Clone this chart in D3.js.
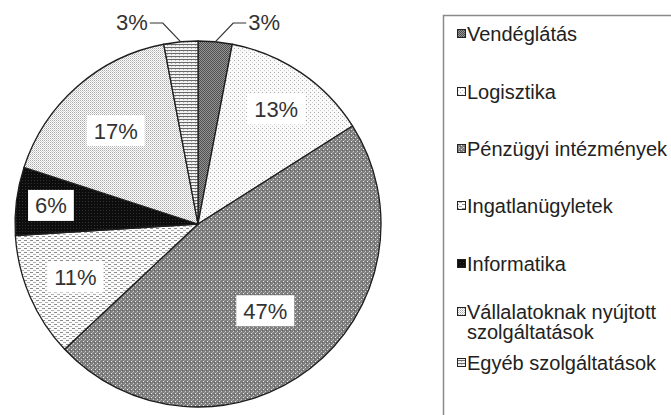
<!DOCTYPE html>
<html lang="hu">
<head>
<meta charset="UTF-8">
<title>Megoszlás</title>
<style>
    body { margin: 0; background: #fff; }
    svg { display: block; font-family: "Liberation Sans", Arial, sans-serif; }
</style>
</head>
<body>
<svg id="chart" width="671" height="415"></svg>
<script src="https://d3js.org/d3.v7.min.js"></script>
<script>
// adatok
const categories = ["Vendéglátás", "Logisztika", "Pénzügyi intézmények", "Ingatlanügyletek",
    "Informatika", "Vállalatoknak nyújtott szolgáltatások", "Egyéb szolgáltatások"];
const shares = [3, 13, 47, 11, 6, 17, 3];

// elrendezés
const patternIds = ["pVend", "pLog", "pPenz", "pIng", "pInfo", "pVall", "pEgy"];
const labelRadius = [null, 0.76, 0.6, 0.73, 0.81, 0.68, null]; // null = kivezetett címke
const legendBaseline = [41, 99, 156, 213, 271, 319, 370];

const svg = d3.select("#chart");
const cx = 198, cy = 224, r = 183;

// mintázatok (szürkeárnyalatos kitöltések)
const defs = svg.append("defs");
function pattern(id, w, h, bg, draw) {
    const p = defs.append("pattern").attr("id", id)
        .attr("patternUnits", "userSpaceOnUse").attr("width", w).attr("height", h);
    p.append("rect").attr("width", w).attr("height", h).attr("fill", bg);
    draw(p);
}
const px = (p, x, y, c, w = 1, h = 1) => p.append("rect").attr("x", x).attr("y", y).attr("width", w).attr("height", h).attr("fill", c);

pattern("pVend", 2, 2, "#959595", p => { px(p, 0, 0, "#4e4e4e"); px(p, 1, 1, "#4e4e4e"); });
pattern("pLog", 4, 4, "#fafafa", p => { px(p, 0, 0, "#a8a8a8"); px(p, 2, 2, "#c8c8c8"); });
pattern("pPenz", 4, 4, "#7e7e7e", p => { px(p, 1, 1, "#eeeeee"); px(p, 3, 3, "#d0d0d0"); px(p, 0, 2, "#5e5e5e"); px(p, 2, 0, "#a0a0a0"); });
pattern("pIng", 6, 4, "#fbfbfb", p => { px(p, 0, 0, "#8a8a8a", 3, 1); px(p, 3, 2, "#b0b0b0", 3, 1); });
pattern("pInfo", 3, 3, "#0d0d0d", p => { px(p, 1, 1, "#333"); });
pattern("pVall", 2, 2, "#ffffff", p => { px(p, 0, 0, "#aaaaaa"); px(p, 1, 1, "#cfcfcf"); });
pattern("pEgy", 4, 3, "#f2f2f2", p => { px(p, 0, 0, "#6a6a6a", 4, 1); px(p, 1, 1, "#b8b8b8"); });

const pie = d3.pie().sort(null).value(d => d).startAngle(0).endAngle(2 * Math.PI);
const arcs = pie(shares);
const arc = d3.arc().innerRadius(0).outerRadius(r);

const g = svg.append("g").attr("transform", `translate(${cx},${cy})`);

g.selectAll("path.slice")
    .data(arcs)
    .join("path")
    .attr("class", "slice")
    .attr("d", arc)
    .attr("fill", (d, i) => `url(#${patternIds[i]})`)
    .attr("stroke", "#1e1e1e")
    .attr("stroke-width", 1.3)
    .attr("stroke-linejoin", "round");

// belső címkék fehér háttérrel
const fontSize = 22;
arcs.forEach((d, i) => {
    if (labelRadius[i] === null) return;
    const a = (d.startAngle + d.endAngle) / 2;
    const lr = r * labelRadius[i];
    const x = Math.sin(a) * lr, y = -Math.cos(a) * lr;
    const t = g.append("text")
        .attr("x", x).attr("y", y + fontSize * 0.36)
        .attr("text-anchor", "middle")
        .attr("font-size", fontSize)
        .attr("fill", "#333")
        .text(d.data + "%");
    const w = t.node().getComputedTextLength();
    g.insert("rect", "text")
        .attr("x", x - w / 2 - 7).attr("y", y - 15.5)
        .attr("width", w + 14).attr("height", 31)
        .attr("fill", "#fff");
});

// kivezetett címkék (3%)
arcs.forEach((d, i) => {
    if (labelRadius[i] !== null) return;
    const a = (d.startAngle + d.endAngle) / 2;
    const side = Math.sin(a) >= 0 ? 1 : -1;
    const p0 = [Math.sin(a) * r, -Math.cos(a) * r];
    const p1 = [p0[0] + side * 18, -r - 18];
    const p2 = [p1[0] + side * 13, p1[1]];
    g.append("polyline")
        .attr("points", [p0, p1, p2].map(p => p.join(",")).join(" "))
        .attr("fill", "none")
        .attr("stroke", "#333")
        .attr("stroke-width", 1.2);
    g.append("text")
        .attr("x", p2[0] + side * 2).attr("y", p2[1] + 7)
        .attr("text-anchor", side > 0 ? "start" : "end")
        .attr("font-size", fontSize)
        .attr("fill", "#333")
        .text(d.data + "%");
});

// jelmagyarázat
svg.append("rect")
    .attr("x", 443.5).attr("y", 15.5)
    .attr("width", 240).attr("height", 420)
    .attr("fill", "none")
    .attr("stroke", "#8a8a8a")
    .attr("stroke-width", 1.5);

const legend = svg.append("g");
const lineH = 20;
categories.forEach((name, i) => {
    const base = legendBaseline[i];
    legend.append("rect")
        .attr("x", 457.5).attr("y", base - 11.5)
        .attr("width", 8).attr("height", 8)
        .attr("fill", `url(#${patternIds[i]})`)
        .attr("stroke", "#222").attr("stroke-width", 1);
    const t = legend.append("text")
        .attr("x", 467).attr("y", base)
        .attr("font-size", 20)
        .attr("fill", "#222");
    // tördelés, ha túl hosszú
    const words = name.split(" ");
    let line = [], lineNo = 0;
    let tspan = t.append("tspan").attr("x", 467).attr("y", base);
    words.forEach(wd => {
        line.push(wd);
        tspan.text(line.join(" "));
        if (tspan.node().getComputedTextLength() > 215 && line.length > 1) {
            line.pop();
            tspan.text(line.join(" "));
            line = [wd];
            lineNo++;
            tspan = t.append("tspan").attr("x", 467).attr("y", base + lineNo * lineH).text(wd);
        }
    });
});
</script>
</body>
</html>
